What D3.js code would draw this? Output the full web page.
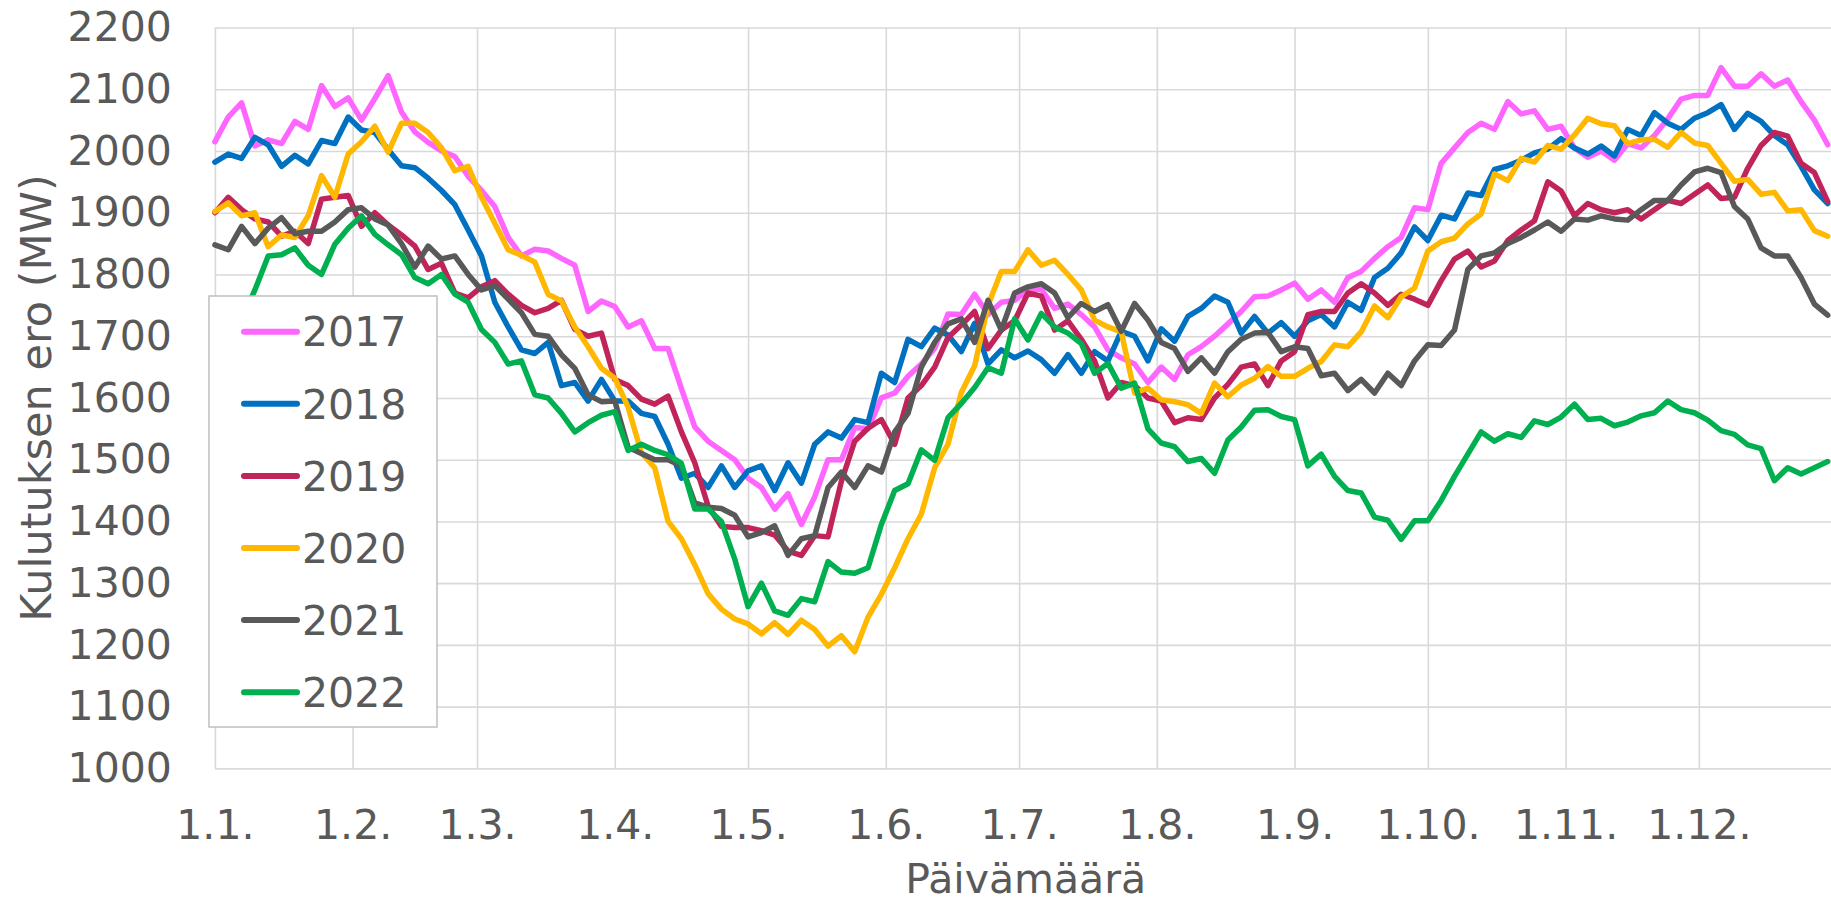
<!DOCTYPE html>
<html>
<head>
<meta charset="utf-8">
<script src="https://cdnjs.cloudflare.com/ajax/libs/d3/7.8.5/d3.min.js"></script>
<style>
	body { margin: 0; background: #fff; }
	svg text { font-family: "DejaVu Sans", Verdana, sans-serif; fill: #595959; }
</style>
</head>
<body>
<svg class="chart"></svg>
<script>
const width = 1831,
			height = 904,
			plotLeft = 214.9,
			plotTop = 27.5,
			plotBottom = 768.4,
			dayWidth = 4.443

// day of year (0 = 1.1.)
const days = [
	0, 3, 6, 9, 12, 15, 18, 21, 24, 27,
	30, 33, 36, 39, 42, 45, 48, 51, 54, 57,
	60, 63, 66, 69, 72, 75, 78, 81, 84, 87,
	90, 93, 96, 99, 102, 105, 108, 111, 114, 117,
	120, 123, 126, 129, 132, 135, 138, 141, 144, 147,
	150, 153, 156, 159, 162, 165, 168, 171, 174, 177,
	180, 183, 186, 189, 192, 195, 198, 201, 204, 207,
	210, 213, 216, 219, 222, 225, 228, 231, 234, 237,
	240, 243, 246, 249, 252, 255, 258, 261, 264, 267,
	270, 273, 276, 279, 282, 285, 288, 291, 294, 297,
	300, 303, 306, 309, 312, 315, 318, 321, 324, 327,
	330, 333, 336, 339, 342, 345, 348, 351, 354, 357,
	360, 363
]

const monthStarts = [0, 31, 59, 90, 120, 151, 181, 212, 243, 273, 304, 334]
const monthLabels = ["1.1.", "1.2.", "1.3.", "1.4.", "1.5.", "1.6.", "1.7.", "1.8.", "1.9.", "1.10.", "1.11.", "1.12."]
const yTicks = [1000, 1100, 1200, 1300, 1400, 1500, 1600, 1700, 1800, 1900, 2000, 2100, 2200]

const years = ["2017", "2018", "2019", "2020", "2021", "2022"]
const colors = ["#ff66ff", "#0070c0", "#c0245b", "#ffb700", "#595959", "#00b050"]

const v2017 = [
	2015, 2055, 2078, 2008, 2018, 2012, 2048, 2035, 2106, 2072,
	2086, 2050, 2085, 2122, 2063, 2031, 2014, 2000, 1991, 1959,
	1936, 1910, 1860, 1830, 1841, 1838, 1826, 1815, 1740, 1757,
	1748, 1715, 1725, 1680, 1680, 1615, 1553, 1530, 1515, 1500,
	1470, 1455, 1420, 1445, 1395, 1440, 1500, 1500, 1552, 1550,
	1600, 1608, 1635, 1655, 1680, 1736, 1735, 1768, 1735, 1755,
	1758, 1775, 1776, 1745, 1752, 1735, 1715, 1678, 1665, 1655,
	1625, 1650, 1630, 1670, 1683, 1700, 1720, 1740, 1764, 1765,
	1775, 1786, 1760, 1775, 1755, 1795, 1805, 1826, 1845, 1860,
	1908, 1905, 1980, 2005, 2030, 2045, 2035, 2080, 2060, 2065,
	2035, 2040, 2005, 1990, 2000, 1985, 2012, 2005, 2025, 2052,
	2084, 2090, 2090, 2135, 2105, 2105, 2125, 2105, 2115, 2080,
	2050, 2010
]

const v2018 = [
	1982, 1995, 1988, 2022, 2010, 1975, 1993, 1979, 2017, 2012,
	2055, 2034, 2030, 2002, 1976, 1973, 1956, 1936, 1913, 1872,
	1830, 1755, 1715, 1678, 1672, 1690, 1620, 1625, 1595, 1630,
	1595, 1595, 1575, 1570, 1525, 1470, 1478, 1455, 1490, 1455,
	1482, 1490, 1450, 1495, 1462, 1525, 1545, 1535, 1565, 1560,
	1640, 1625, 1695, 1683, 1713, 1702, 1675, 1721, 1655, 1678,
	1665, 1676, 1662, 1640, 1670, 1640, 1675, 1660, 1708, 1700,
	1660, 1712, 1692, 1732, 1745, 1765, 1755, 1705, 1732, 1705,
	1722, 1700, 1725, 1735, 1715, 1755, 1742, 1795, 1810, 1835,
	1877, 1855, 1896, 1890, 1932, 1928, 1970, 1976, 1985, 1997,
	2003, 2020, 2005, 1995, 2008, 1992, 2035, 2025, 2062, 2045,
	2035, 2053, 2062, 2075, 2035, 2061, 2048, 2025, 2010, 1975,
	1937, 1915
]

const v2019 = [
	1900, 1925, 1905, 1890, 1885, 1862, 1870, 1850, 1922, 1925,
	1928, 1878, 1900, 1880, 1864, 1846, 1808, 1818, 1770, 1762,
	1780, 1790, 1768, 1750, 1738, 1745, 1758, 1711, 1700, 1705,
	1630, 1620, 1598, 1590, 1603, 1545, 1495, 1425, 1392, 1390,
	1390, 1385, 1378, 1352, 1345, 1377, 1375, 1465, 1530, 1551,
	1565, 1525, 1600, 1620, 1650, 1698, 1718, 1740, 1680, 1710,
	1725, 1770, 1765, 1710, 1725, 1695, 1660, 1600, 1625, 1620,
	1600, 1595, 1560, 1568, 1565, 1600, 1622, 1650, 1655, 1620,
	1660, 1675, 1735, 1740, 1740, 1770, 1785, 1770, 1750, 1768,
	1760, 1750, 1790, 1825, 1838, 1812, 1822, 1855, 1872, 1887,
	1950, 1935, 1895, 1915, 1905, 1900, 1905, 1890, 1905, 1920,
	1915, 1930, 1945, 1923, 1925, 1972, 2009, 2030, 2024, 1980,
	1965, 1918
]

const v2020 = [
	1902, 1916, 1895, 1900, 1845, 1864, 1860, 1895, 1960, 1925,
	1995, 2015, 2040, 1998, 2045, 2045, 2030, 2005, 1968, 1975,
	1925, 1883, 1840, 1831, 1820, 1768, 1757, 1715, 1683, 1648,
	1632, 1585, 1511, 1487, 1400, 1372, 1330, 1283, 1258, 1242,
	1234, 1218, 1236, 1217, 1240, 1225, 1198, 1215, 1189, 1245,
	1282, 1325, 1372, 1412, 1487, 1525, 1609, 1652, 1750, 1805,
	1805, 1840, 1815, 1823, 1800, 1775, 1726, 1715, 1707, 1608,
	1616, 1597, 1594, 1589, 1575, 1624, 1602, 1621, 1632, 1651,
	1635, 1635, 1648, 1659, 1686, 1683, 1707, 1749, 1730, 1764,
	1778, 1838, 1853, 1859, 1882, 1898, 1963, 1952, 1988, 1982,
	2009, 2003, 2026, 2053, 2044, 2041, 2012, 2018, 2019, 2006,
	2030, 2013, 2009, 1980, 1951, 1954, 1930, 1933, 1903, 1905,
	1871, 1862
]

const v2021 = [
	1848, 1840, 1878, 1850, 1875, 1892, 1866, 1870, 1870, 1885,
	1905, 1908, 1890, 1880, 1850, 1812, 1846, 1825, 1830, 1800,
	1775, 1782, 1760, 1738, 1703, 1700, 1670, 1648, 1605, 1594,
	1595, 1520, 1510, 1500, 1500, 1490, 1430, 1423, 1421, 1410,
	1375, 1382, 1393, 1345, 1372, 1377, 1455, 1480, 1455, 1490,
	1480, 1545, 1575, 1650, 1690, 1720, 1728, 1690, 1758, 1710,
	1770, 1780, 1785, 1770, 1730, 1753, 1740, 1751, 1708, 1753,
	1726, 1690, 1680, 1643, 1665, 1640, 1675, 1695, 1705, 1706,
	1675, 1683, 1680, 1636, 1640, 1612, 1630, 1608, 1640, 1620,
	1660, 1686, 1685, 1710, 1808, 1830, 1835, 1850, 1860, 1872,
	1885, 1870, 1890, 1888, 1895, 1890, 1888, 1905, 1920, 1920,
	1945, 1966, 1972, 1965, 1910, 1890, 1843, 1830, 1830, 1795,
	1752, 1734
]

const v2022 = [
	1690, 1700, 1725, 1775, 1830, 1832, 1843, 1815, 1800, 1849,
	1875, 1895, 1865, 1848, 1832, 1795, 1785, 1800, 1768, 1755,
	1711, 1690, 1655, 1660, 1605, 1600, 1575, 1545, 1560, 1572,
	1578, 1515, 1525, 1515, 1508, 1494, 1420, 1420, 1400, 1339,
	1262, 1300, 1255, 1248, 1275, 1270, 1335, 1318, 1316, 1325,
	1395, 1450, 1461, 1516, 1499, 1568, 1591, 1617, 1649, 1640,
	1728, 1694, 1737, 1715, 1705, 1688, 1640, 1656, 1616, 1624,
	1550, 1527, 1521, 1497, 1502, 1478, 1532, 1553, 1580, 1581,
	1570, 1565, 1490, 1509, 1473, 1450, 1446, 1407, 1402, 1371,
	1401, 1401, 1434, 1473, 1509, 1545, 1530, 1542, 1536, 1563,
	1557, 1569, 1590, 1565, 1567, 1555, 1561, 1571, 1576, 1595,
	1581, 1576, 1564, 1547, 1541, 1524, 1518, 1466, 1487, 1477,
	1487, 1497
]

const seriesValues = [v2017, v2018, v2019, v2020, v2021, v2022]

var chart = d3.select(".chart")
		.attr("width", width)
		.attr("height", height)

var x = d3.scaleLinear()
		.domain([0, 365])
		.range([plotLeft, plotLeft + 365 * dayWidth])

var y = d3.scaleLinear()
		.domain([1000, 2200])
		.range([plotBottom, plotTop])

// horizontal grid + y labels
chart.append("g")
		.attr("class", "y-axis")
		.attr("transform", `translate(${plotLeft},0)`)
		.call(d3.axisLeft(y)
			.tickValues(yTicks)
			.tickFormat(d3.format("d"))
			.tickSize(-(width - plotLeft))
			.tickPadding(43))

// vertical grid + month labels
chart.append("g")
		.attr("class", "x-axis")
		.attr("transform", `translate(0,${plotBottom})`)
		.call(d3.axisBottom(x)
			.tickValues(monthStarts)
			.tickFormat((d, i) => monthLabels[i])
			.tickSize(-(plotBottom - plotTop))
			.tickPadding(41))

chart.selectAll(".domain").remove()
chart.selectAll(".tick line")
		.attr("stroke", "#d9d9d9")
		.attr("stroke-width", 1.6)
chart.selectAll(".tick text")
		.style("font-size", "41px")

var line = d3.line()
		.x((d, i) => x(days[i]))
		.y((d) => y(d))

chart.append("g")
		.attr("class", "lines")
	.selectAll("path")
	.data(seriesValues)
	.enter()
	.append("path")
		.attr("d", line)
		.attr("fill", "none")
		.attr("stroke", (d, i) => colors[i])
		.attr("stroke-width", 5.5)
		.attr("stroke-linejoin", "round")
		.attr("stroke-linecap", "round")

// axis titles
chart.append("text")
		.attr("transform", "translate(50.6,398) rotate(-90)")
		.attr("text-anchor", "middle")
		.style("font-size", "43px")
		.text("Kulutuksen ero (MW)")

chart.append("text")
		.attr("x", (x.range()[0] + x.range()[1]) / 2)
		.attr("y", 893)
		.attr("text-anchor", "middle")
		.style("font-size", "41px")
		.text("Päivämäärä")

// legend
var legend = chart.append("g")
		.attr("class", "legend")

legend.append("rect")
		.attr("x", 209)
		.attr("y", 296)
		.attr("width", 228)
		.attr("height", 431)
		.attr("fill", "#fff")
		.attr("stroke", "#bfbfbf")
		.attr("stroke-width", 1.5)

var item = legend.selectAll(".item")
		.data(years)
		.enter()
		.append("g")
			.attr("class", "item")
			.attr("transform", (d, i) => `translate(0,${331.7 + i * 72.1})`)

item.append("line")
		.attr("x1", 244)
		.attr("x2", 297)
		.attr("stroke", (d, i) => colors[i])
		.attr("stroke-width", 6)
		.attr("stroke-linecap", "round")

item.append("text")
		.attr("x", 302)
		.attr("dy", "0.36em")
		.style("font-size", "41px")
		.text((d) => d)
</script>
</body>
</html>
